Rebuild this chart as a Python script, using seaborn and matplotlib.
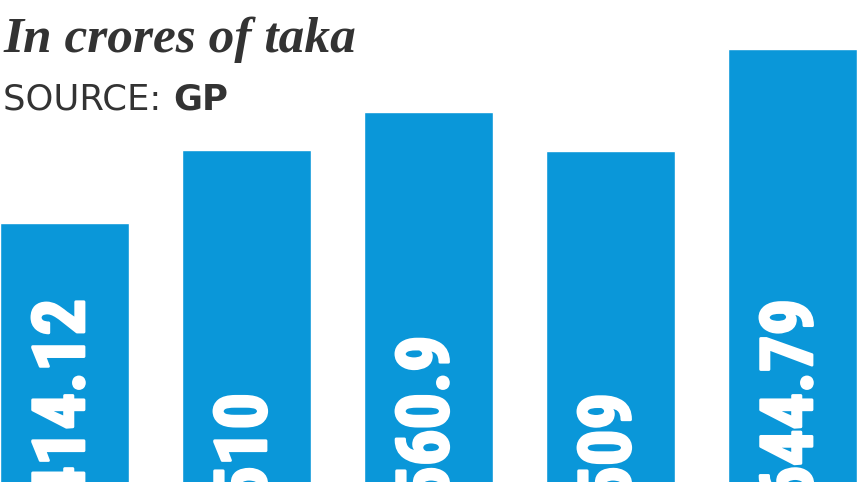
import matplotlib
matplotlib.use("Agg")
import matplotlib.pyplot as plt
import matplotlib.patheffects as pe
import seaborn as sns

# --- Data ---
periods = ["P1", "P2", "P3", "P4", "P5"]
values = [414.12, 510, 560.9, 509, 644.79]

bar_color = "#0a97d9"
text_color = "#333333"

sns.set_style("white")

fig = plt.figure(figsize=(8.57, 4.82), dpi=100)
ax = fig.add_axes([0, 0, 1, 1])

bar_w = 129 / 182
sns.barplot(x=periods, y=values, color=bar_color, width=bar_w,
            saturation=1, ax=ax)

ax.set_xlim(-bar_w / 2, len(values) - 1 + bar_w / 2)
ax.set_ylim(70.3, 709.5)
ax.axis("off")

# value labels, rotated, sitting near the (cropped) base
for i, v in enumerate(values):
    ax.text(i, 43, f"{v:g}", rotation=90, ha="center", va="bottom",
            color="white", fontsize=52, fontweight="bold",
            family=["Roboto Condensed", "Roboto", "DejaVu Sans"],
            path_effects=[pe.withStroke(linewidth=2, foreground="white")])

# --- Titles ---
fig.text(0.004, 0.892, "In crores of taka", ha="left", va="baseline",
         fontsize=37, fontweight="bold", fontstyle="italic",
         family="Liberation Serif", color=text_color)
src = fig.text(0.004, 0.772, "SOURCE: ", ha="left", va="baseline",
               fontsize=25.5, family="DejaVu Sans", color=text_color)
fig.canvas.draw()
bb = src.get_window_extent()
fig.text(bb.x1 / fig.bbox.width, 0.772, "GP", ha="left", va="baseline",
         fontsize=25.5, fontweight="bold", family="DejaVu Sans",
         color=text_color)

plt.savefig("out.png", dpi=100)
